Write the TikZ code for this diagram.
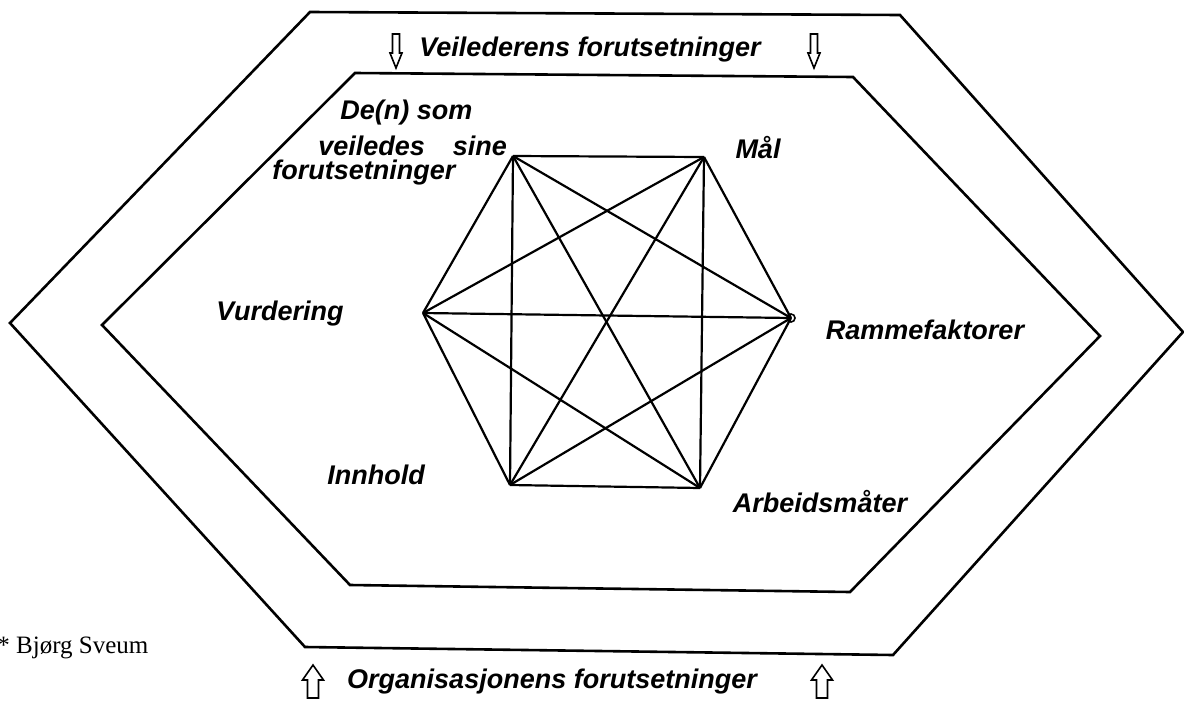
\documentclass[tikz,border=0pt]{standalone}
\usepackage{fontspec}
\setmainfont{Liberation Serif}
\setsansfont{Liberation Sans}

\begin{document}
\begin{tikzpicture}[x=0.5pt,y=-0.5pt,
  every node/.style={inner sep=0pt, font=\sffamily\bfseries\itshape\fontsize{13.5}{16}\selectfont},
  frame/.style={line width=1.3pt, line join=miter},
  link/.style={line width=1.1pt},
  hollowdown/.pic={\draw[line width=0.8pt] (-3.5,0) -- (-3.5,19) -- (-6,19) -- (0,34) -- (6,19) -- (3.5,19) -- (3.5,0) -- cycle;},
  hollowup/.pic={\draw[line width=0.8pt] (0,0) -- (-10.5,15) -- (-5.5,15) -- (-5.5,33) -- (5.5,33) -- (5.5,15) -- (10.5,15) -- cycle;}]
  \useasboundingbox (0,0) rectangle (1184,702);

  % Frames
  \draw[frame] (310,12) -- (900,15) -- (1183,332) -- (893,655) -- (305,647) -- (10,323) -- cycle;
  \draw[frame] (355,73) -- (853,77) -- (1100,336) -- (850,592) -- (350,585) -- (102,325) -- cycle;

  % Corners of the figure in the middle
  \coordinate (deltaker) at (513,156);
  \coordinate (maal)     at (704,157);
  \coordinate (ramme)    at (791,318);
  \coordinate (arbeid)   at (700,488);
  \coordinate (innhold)  at (510,485);
  \coordinate (vurd)     at (423,313);

  % Every corner joined to every other
  \foreach \a/\b in {deltaker/maal, deltaker/ramme, deltaker/arbeid, deltaker/innhold, deltaker/vurd,
                     maal/ramme, maal/arbeid, maal/innhold, maal/vurd,
                     ramme/arbeid, ramme/innhold, ramme/vurd,
                     arbeid/innhold, arbeid/vurd,
                     innhold/vurd}
    \draw[link] (\a) -- (\b);
  \draw[line width=0.8pt] (ramme) circle (2pt);

  % Labels at the corners
  \node[anchor=west] (lden1) at (340,113) {De(n) som};
  \node[anchor=west] (lden2) at (318,146) {veiledes\hspace{14pt}sine};
  \node[anchor=west] (lden3) at (272,173) {forutsetninger};
  \node (lmaal)    at (758,148) {Mål};
  \node (lvurd)    at (280,314) {Vurdering};
  \node (lramme)   at (925,330) {Rammefaktorer};
  \node (linnhold) at (376,475) {Innhold};
  \node (larbeid)  at (820,502) {Arbeidsmåter};

  % Outer conditions
  \node (lveil) at (590,50) {Veilederens forutsetninger};
  \pic at (396,34) {hollowdown};
  \pic at (814,34) {hollowdown};
  \node (lorg) at (552,682) {Organisasjonens forutsetninger};
  \pic at (313,665) {hollowup};
  \pic at (822,665) {hollowup};

  \node[anchor=west, font=\rmfamily\fontsize{12.5}{14}\selectfont] (kilde) at (-3,648) {* Bjørg Sveum};
\end{tikzpicture}
\end{document}
